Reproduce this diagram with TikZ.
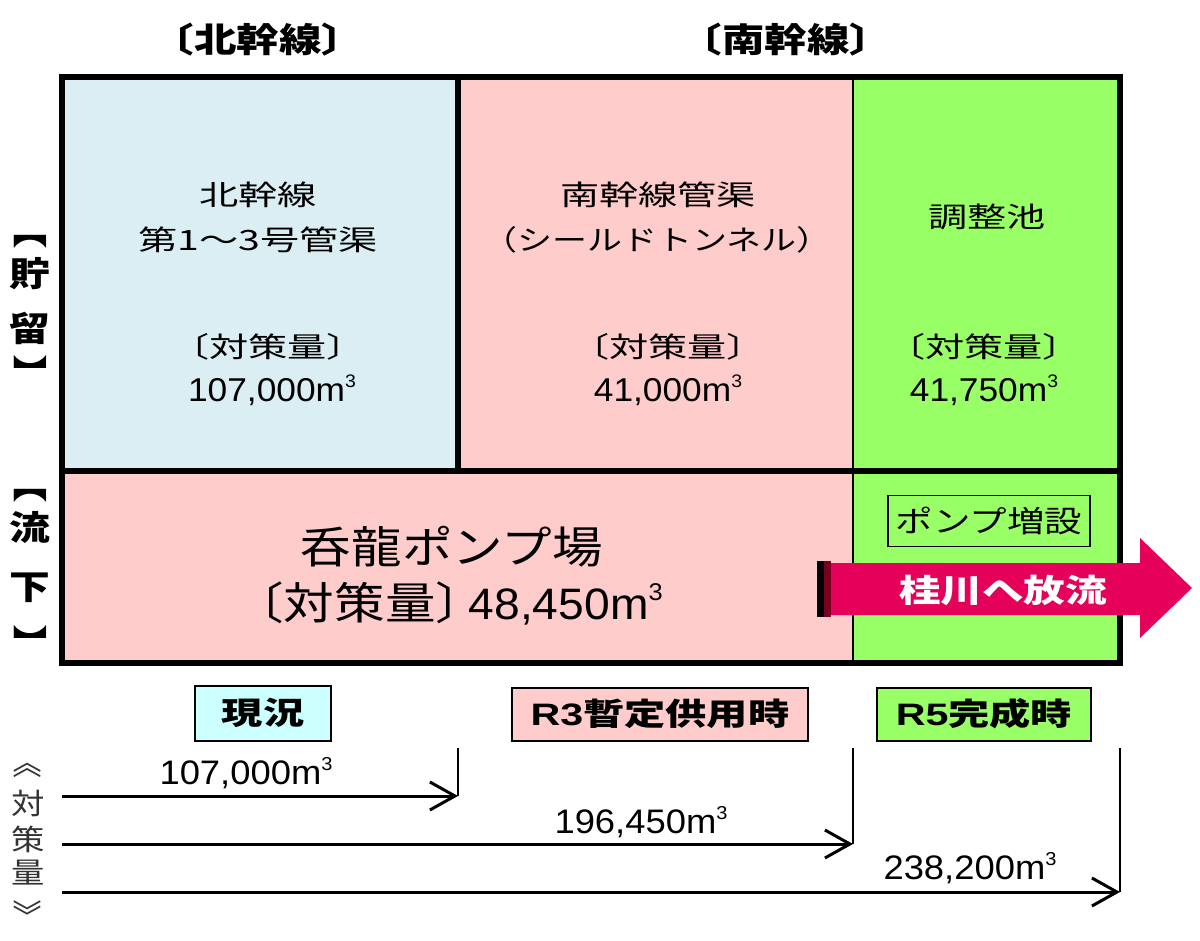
\documentclass[tikz,border=0pt]{standalone}
\usepackage{fontspec}
\setmainfont{Liberation Sans}
\newfontfamily\jpf{Noto Sans CJK JP}
\usetikzlibrary{arrows.meta}
\newcommand{\sx}[2][1.3]{\scalebox{#1}[1]{#2}}
\newcommand{\cubic}{\raisebox{0.42em}{\scalebox{0.55}{3}}}
\newcommand{\fsz}[1]{\fontsize{#1}{#1}\selectfont}
\definecolor{cellblue}{HTML}{DAEEF3}
\definecolor{cellpink}{HTML}{FFCCCC}
\definecolor{cellgreen}{HTML}{99FF66}
\definecolor{labcyan}{HTML}{CCFFFF}
\definecolor{flowred}{HTML}{E5005A}
\definecolor{stripered}{HTML}{7A0020}
\definecolor{sidegray}{HTML}{333333}
\begin{document}
\begin{tikzpicture}[x=1pt,y=-1pt,
  every node/.style={inner sep=0pt, outer sep=0pt},
  thickln/.style={line width=6pt},
  lab/.style={draw, line width=2pt},
  meas/.style={line width=3pt, -{Straight Barb[length=25pt,width=28pt,line width=3pt]}},
  tickln/.style={line width=2pt},
  vlab/.style={font=\fsz{34}},
  vbr/.style={font=\fsz{34}, rotate=-90},
  vlab2/.style={font=\fsz{29}, text=sidegray},
  vbr2/.style={font=\fsz{29}, text=sidegray, rotate=-90}]
\useasboundingbox (0,0) rectangle (1200,941);

% cells
\fill[cellblue] (62,77) rectangle (458,471);
\fill[cellpink] (458,77) rectangle (853,471);
\fill[cellgreen] (853,77) rectangle (1120,663);
\fill[cellpink] (62,471) rectangle (853,663);
\draw[line width=1.5pt] (853,77) -- (853,663);
\draw[thickln] (458,77) -- (458,471);
\draw[thickln] (62,471) -- (1120,471);
\draw[thickln] (62,77) rectangle (1120,663);

% headers
\node (hN) at (258,40) {\fsz{34}\sx[1.25]{\jpf\bfseries 〔北幹線〕}};
\node (hS) at (786,40) {\fsz{34}\sx[1.25]{\jpf\bfseries 〔南幹線〕}};

% side labels
\node[vbr] (ch1) at (30,229) {\sx[1.2]{\jpf\bfseries 【}};
\node[vlab] (ch2) at (30,274) {\sx[1.2]{\jpf\bfseries 貯}};
\node[vlab] (ch3) at (30,328) {\sx[1.2]{\jpf\bfseries 留}};
\node[vbr] (ch4) at (30,375) {\sx[1.2]{\jpf\bfseries 】}};
\node[vbr] (fl1) at (30,483) {\sx[1.2]{\jpf\bfseries 【}};
\node[vlab] (fl2) at (30,528) {\sx[1.2]{\jpf\bfseries 流}};
\node[vlab] (fl3) at (30,588) {\sx[1.2]{\jpf\bfseries 下}};
\node[vbr] (fl4) at (30,645) {\sx[1.2]{\jpf\bfseries 】}};
\node[vbr2] (tq1) at (28,762) {\sx[1.15]{\jpf 《}};
\node[vlab2] (tq2) at (28,803) {\sx[1.15]{\jpf 対}};
\node[vlab2] (tq3) at (28,839) {\sx[1.15]{\jpf 策}};
\node[vlab2] (tq4) at (28,873) {\sx[1.15]{\jpf 量}};
\node[vbr2] (tq5) at (28,916) {\sx[1.15]{\jpf 》}};

% north cell
\node (c1a) at (258,195) {\fsz{28}\sx[1.4]{\jpf 北幹線}};
\node (c1b) at (258,240) {\fsz{28}\sx[1.4]{\jpf 第1～3号管渠}};
\node (c1c) at (268,347) {\fsz{28}\sx[1.4]{\jpf 〔対策量〕}};
\node (c1d) at (272,390) {\fsz{33}\sx[1.07]{107,000m\cubic}};
% south cell
\node (c2a) at (658,195) {\fsz{28}\sx[1.4]{\jpf 南幹線管渠}};
\node (c2b) at (657,240) {\fsz{28}\sx[1.25]{\jpf （シールドトンネル）}};
\node (c2c) at (668,347) {\fsz{28}\sx[1.4]{\jpf 〔対策量〕}};
\node (c2d) at (668,390) {\fsz{33}\sx[1.07]{41,000m\cubic}};
% pond cell
\node (c3a) at (987,217) {\fsz{28}\sx[1.4]{\jpf 調整池}};
\node (c3c) at (984,347) {\fsz{28}\sx[1.4]{\jpf 〔対策量〕}};
\node (c3d) at (984,390) {\fsz{33}\sx[1.07]{41,750m\cubic}};

% pump station
\node (p1) at (452,547) {\fsz{44}\sx[1.15]{\jpf 呑龍ポンプ場}};
\node (p2) at (448,603) {\fsz{44}\sx[1.15]{\jpf 〔対策量〕}\hspace{-0.4em}\sx[1.05]{48,450m\cubic}};
\node[draw, line width=1.5pt, minimum width=202, minimum height=51] (pz) at (989,521)
  {\fsz{30}\sx[1.25]{\jpf ポンプ増設}};

% discharge arrow
\fill[flowred] (830,563) -- (1140,563) -- (1140,538) -- (1192,588) -- (1140,638) -- (1140,615) -- (830,615) -- cycle;
\fill[black] (817,561) rectangle (824,617);
\fill[stripered] (824,561) rectangle (831,617);
\node (riv) at (1003,590) {\fsz{32}\sx[1.3]{\jpf\bfseries\color{white} 桂川へ放流}};

% stage labels
\node[lab, fill=labcyan, minimum width=136, minimum height=55] (s1) at (263,713)
  {\fsz{31}\sx[1.33]{\bfseries\jpf 現況}};
\node[lab, fill=cellpink, minimum width=296, minimum height=53] (s2) at (660,714)
  {\fsz{31}\sx[1.33]{\bfseries R3\jpf 暫定供用時}};
\node[lab, fill=cellgreen, minimum width=214, minimum height=53] (s3) at (984,714)
  {\fsz{31}\sx[1.33]{\bfseries R5\jpf 完成時}};

% measure arrows
\coordinate (a0) at (62,796);  \coordinate (a1) at (458,796);  \coordinate (t1) at (458,748);
\coordinate (b0) at (62,844);  \coordinate (b1) at (853,844);  \coordinate (t2) at (853,748);
\coordinate (d0) at (62,892);  \coordinate (d1) at (1120,892); \coordinate (t3) at (1120,748);
\draw[tickln] (t1) -- (a1);
\draw[tickln] (t2) -- (b1);
\draw[tickln] (t3) -- (d1);
\draw[meas] (a0) -- (a1);
\draw[meas] (b0) -- (b1);
\draw[meas] (d0) -- (d1);
\node (v1) at (246,773) {\fsz{34}\sx[1.07]{107,000m\cubic}};
\node (v2) at (641,822) {\fsz{34}\sx[1.07]{196,450m\cubic}};
\node (v3) at (970,868) {\fsz{34}\sx[1.07]{238,200m\cubic}};
\end{tikzpicture}
\end{document}
